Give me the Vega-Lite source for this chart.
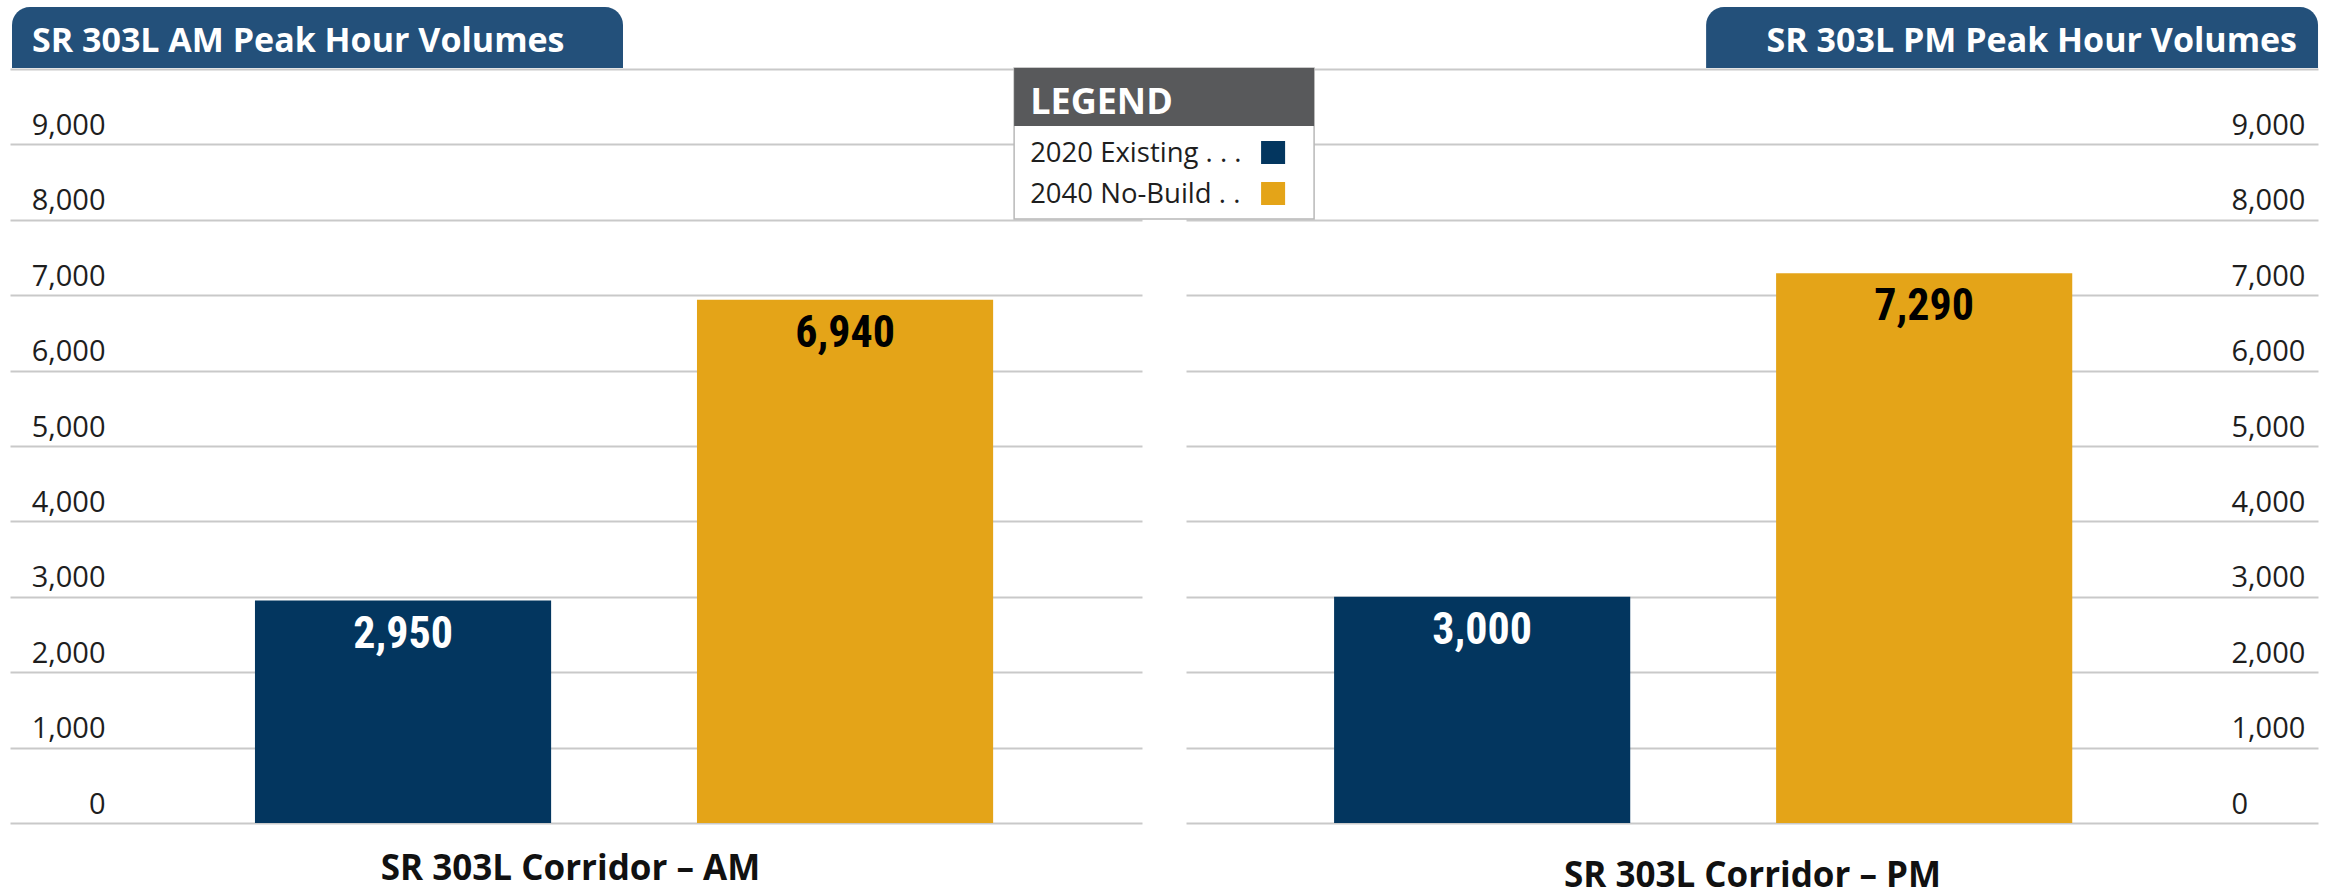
{
  "$schema": "https://vega.github.io/schema/vega-lite/v6.json",
  "background": "white",
  "padding": {"left": 10, "top": 7, "right": 7, "bottom": 4},
  "bounds": "flush",
  "spacing": 44,
  "datasets": {
    "volumes": [
      {"Period": "AM", "Series": "2020 Existing", "Volume": 2950},
      {"Period": "AM", "Series": "2040 No-Build", "Volume": 6940},
      {"Period": "PM", "Series": "2020 Existing", "Volume": 3000},
      {"Period": "PM", "Series": "2040 No-Build", "Volume": 7290}
    ],
    "legendEntries": [
      {"Series": "2020 Existing", "Label": "2020 Existing . . ."},
      {"Series": "2040 No-Build", "Label": "2040 No-Build . ."}
    ]
  },
  "config": {
    "view": {"stroke": null},
    "font": "Open Sans",
    "text": {"font": "Open Sans"}
  },
  "hconcat": [
    {
      "width": 1132,
      "height": 754,
      "layer": [
        {
          "data": {"values": [{"Title": "SR 303L AM Peak Hour Volumes"}]},
          "mark": {"type": "rect", "fill": "#23507a", "cornerRadiusTopLeft": 18, "cornerRadiusTopRight": 18},
          "encoding": {
            "x": {"datum": "2020 Existing", "bandPosition": -0.8204},
            "x2": {"datum": "2040 No-Build", "bandPosition": -0.2498},
            "y": {"datum": 10822, "type": "quantitative"},
            "y2": {"datum": 10013}
          }
        },
        {
          "data": {"values": [{"Title": "SR 303L AM Peak Hour Volumes"}]},
          "mark": {"type": "text", "align": "left", "baseline": "alphabetic", "font": "Open Sans", "fontWeight": "bold", "fontSize": 34, "color": "white"},
          "encoding": {
            "x": {"datum": "2020 Existing", "bandPosition": -0.7529},
            "y": {"datum": 10225, "type": "quantitative"},
            "text": {"field": "Title"}
          }
        },
        {
          "data": {"name": "volumes"},
          "transform": [{"filter": "datum.Period === 'AM'"}],
          "mark": {"type": "bar"},
          "encoding": {
            "x": {"field": "Series", "type": "nominal"},
            "y": {"field": "Volume", "type": "quantitative"},
            "color": {"field": "Series", "type": "nominal", "legend": null,
              "scale": {"domain": ["2020 Existing", "2040 No-Build"], "range": ["#03365f", "#e4a418"]}}
          }
        },
        {
          "data": {"name": "volumes"},
          "transform": [{"filter": "datum.Period === 'AM'"}],
          "mark": {"type": "text", "align": "center", "baseline": "alphabetic", "dy": 47, "font": "Roboto Condensed", "fontWeight": "bold", "fontSize": 44},
          "encoding": {
            "x": {"field": "Series", "type": "nominal"},
            "y": {"field": "Volume", "type": "quantitative"},
            "text": {"field": "Volume", "type": "quantitative", "format": ","},
            "color": {"condition": {"test": "datum.Series === '2020 Existing'", "value": "white"}, "value": "black"}
          }
        }
      ],
      "encoding": {
        "x": {
          "type": "nominal",
          "scale": {"domain": ["2020 Existing", "2040 No-Build"], "paddingInner": 0.33, "paddingOuter": 0.4455, "align": 0.622},
          "axis": {"orient": "bottom", "labels": false, "ticks": false, "domain": false, "grid": false,
            "title": "SR 303L Corridor – AM", "titleFont": "Open Sans", "titleFontWeight": "bold", "titleFontSize": 35,
            "titleColor": "#111111", "titleBaseline": "alphabetic", "titleAlign": "center", "titleX": 560, "titleY": 56}
        },
        "y": {
          "type": "quantitative",
          "scale": {"domain": [0, 10000], "nice": false, "zero": true},
          "axis": {"orient": "left", "values": [0, 1000, 2000, 3000, 4000, 5000, 6000, 7000, 8000, 9000, 10000],
            "grid": true,
            "labelExpr": "datum.value >= 10000 ? '' : format(datum.value, ',')",
            "ticks": false, "tickSize": 0, "domain": false, "title": null,
            "labelAlign": "right", "labelPadding": -95, "labelBaseline": "alphabetic", "labelOffset": -10,
            "labelFont": "Open Sans", "labelFontSize": 29, "labelColor": "#1e1e1e",
            "gridColor": "#c9c9c9", "gridWidth": 2}
        }
      }
    },
    {
      "width": 1132,
      "height": 754,
      "layer": [
        {
          "data": {"values": [{"Title": "SR 303L PM Peak Hour Volumes"}]},
          "mark": {"type": "rect", "fill": "#23507a", "cornerRadiusTopLeft": 18, "cornerRadiusTopRight": 18},
          "encoding": {
            "x": {"datum": "2040 No-Build", "bandPosition": -0.2363},
            "x2": {"datum": "2040 No-Build", "bandPosition": 1.8299},
            "y": {"datum": 10822, "type": "quantitative"},
            "y2": {"datum": 10013}
          }
        },
        {
          "data": {"values": [{"Title": "SR 303L PM Peak Hour Volumes"}]},
          "mark": {"type": "text", "align": "right", "baseline": "alphabetic", "font": "Open Sans", "fontWeight": "bold", "fontSize": 34, "color": "white"},
          "encoding": {
            "x": {"datum": "2040 No-Build", "bandPosition": 1.759},
            "y": {"datum": 10225, "type": "quantitative"},
            "text": {"field": "Title"}
          }
        },
        {
          "data": {"name": "volumes"},
          "transform": [{"filter": "datum.Period === 'PM'"}],
          "mark": {"type": "bar"},
          "encoding": {
            "x": {"field": "Series", "type": "nominal"},
            "y": {"field": "Volume", "type": "quantitative"},
            "color": {"field": "Series", "type": "nominal", "legend": null,
              "scale": {"domain": ["2020 Existing", "2040 No-Build"], "range": ["#03365f", "#e4a418"]}}
          }
        },
        {
          "data": {"name": "volumes"},
          "transform": [{"filter": "datum.Period === 'PM'"}],
          "mark": {"type": "text", "align": "center", "baseline": "alphabetic", "dy": 47, "font": "Roboto Condensed", "fontWeight": "bold", "fontSize": 44},
          "encoding": {
            "x": {"field": "Series", "type": "nominal"},
            "y": {"field": "Volume", "type": "quantitative"},
            "text": {"field": "Volume", "type": "quantitative", "format": ","},
            "color": {"condition": {"test": "datum.Series === '2020 Existing'", "value": "white"}, "value": "black"}
          }
        },
        {
          "data": {"values": [{"Legend": "LEGEND"}]},
          "mark": {"type": "rect", "fill": "white", "stroke": "#b8b8b8", "strokeWidth": 1.5},
          "encoding": {
            "x": {"datum": "2020 Existing", "bandPosition": -1.0804},
            "x2": {"datum": "2020 Existing", "bandPosition": -0.0675},
            "y": {"datum": 10013, "type": "quantitative"},
            "y2": {"datum": 8010}
          }
        },
        {
          "data": {"values": [{"Legend": "LEGEND"}]},
          "mark": {"type": "rect", "fill": "#58595b"},
          "encoding": {
            "x": {"datum": "2020 Existing", "bandPosition": -1.0804},
            "x2": {"datum": "2020 Existing", "bandPosition": -0.0675},
            "y": {"datum": 10013, "type": "quantitative"},
            "y2": {"datum": 9244}
          }
        },
        {
          "data": {"values": [{"Legend": "LEGEND"}]},
          "mark": {"type": "text", "align": "left", "baseline": "alphabetic", "font": "Open Sans", "fontWeight": "bold", "fontSize": 36, "color": "white"},
          "encoding": {
            "x": {"datum": "2020 Existing", "bandPosition": -1.0263},
            "y": {"datum": 9403, "type": "quantitative"},
            "text": {"field": "Legend"}
          }
        },
        {
          "data": {"name": "legendEntries"},
          "transform": [{"filter": "datum.Series === '2020 Existing'"}],
          "layer": [
            {
              "mark": {"type": "text", "align": "left", "baseline": "alphabetic", "font": "Open Sans", "fontSize": 27.5, "color": "#1e1e1e"},
              "encoding": {
                "x": {"datum": "2020 Existing", "bandPosition": -1.0263},
                "y": {"datum": 8767, "type": "quantitative"},
                "text": {"field": "Label"}
              }
            },
            {
              "mark": {"type": "rect"},
              "encoding": {
                "x": {"datum": "2020 Existing", "bandPosition": -0.2465},
                "x2": {"datum": "2020 Existing", "bandPosition": -0.1654},
                "y": {"datum": 9045, "type": "quantitative"},
                "y2": {"datum": 8740},
                "color": {"field": "Series", "type": "nominal", "legend": null,
                  "scale": {"domain": ["2020 Existing", "2040 No-Build"], "range": ["#03365f", "#e4a418"]}}
              }
            }
          ]
        },
        {
          "data": {"name": "legendEntries"},
          "transform": [{"filter": "datum.Series === '2040 No-Build'"}],
          "layer": [
            {
              "mark": {"type": "text", "align": "left", "baseline": "alphabetic", "font": "Open Sans", "fontSize": 27.5, "color": "#1e1e1e"},
              "encoding": {
                "x": {"datum": "2020 Existing", "bandPosition": -1.0263},
                "y": {"datum": 8223, "type": "quantitative"},
                "text": {"field": "Label"}
              }
            },
            {
              "mark": {"type": "rect"},
              "encoding": {
                "x": {"datum": "2020 Existing", "bandPosition": -0.2465},
                "x2": {"datum": "2020 Existing", "bandPosition": -0.1654},
                "y": {"datum": 8501, "type": "quantitative"},
                "y2": {"datum": 8196},
                "color": {"field": "Series", "type": "nominal", "legend": null,
                  "scale": {"domain": ["2020 Existing", "2040 No-Build"], "range": ["#03365f", "#e4a418"]}}
              }
            }
          ]
        }
      ],
      "encoding": {
        "x": {
          "type": "nominal",
          "scale": {"domain": ["2020 Existing", "2040 No-Build"], "paddingInner": 0.33, "paddingOuter": 0.4455, "align": 0.376},
          "axis": {"orient": "bottom", "labels": false, "ticks": false, "domain": false, "grid": false,
            "title": "SR 303L Corridor – PM", "titleFont": "Open Sans", "titleFontWeight": "bold", "titleFontSize": 35,
            "titleColor": "#111111", "titleBaseline": "alphabetic", "titleAlign": "center", "titleX": 566, "titleY": 63}
        },
        "y": {
          "type": "quantitative",
          "scale": {"domain": [0, 10000], "nice": false, "zero": true},
          "axis": {"orient": "right", "values": [0, 1000, 2000, 3000, 4000, 5000, 6000, 7000, 8000, 9000, 10000],
            "grid": true,
            "labelExpr": "datum.value >= 10000 ? '' : format(datum.value, ',')",
            "ticks": false, "tickSize": 0, "domain": false, "title": null,
            "labelAlign": "left", "labelPadding": -87, "labelBaseline": "alphabetic", "labelOffset": -10,
            "labelFont": "Open Sans", "labelFontSize": 29, "labelColor": "#1e1e1e",
            "gridColor": "#c9c9c9", "gridWidth": 2}
        }
      }
    }
  ]
}
